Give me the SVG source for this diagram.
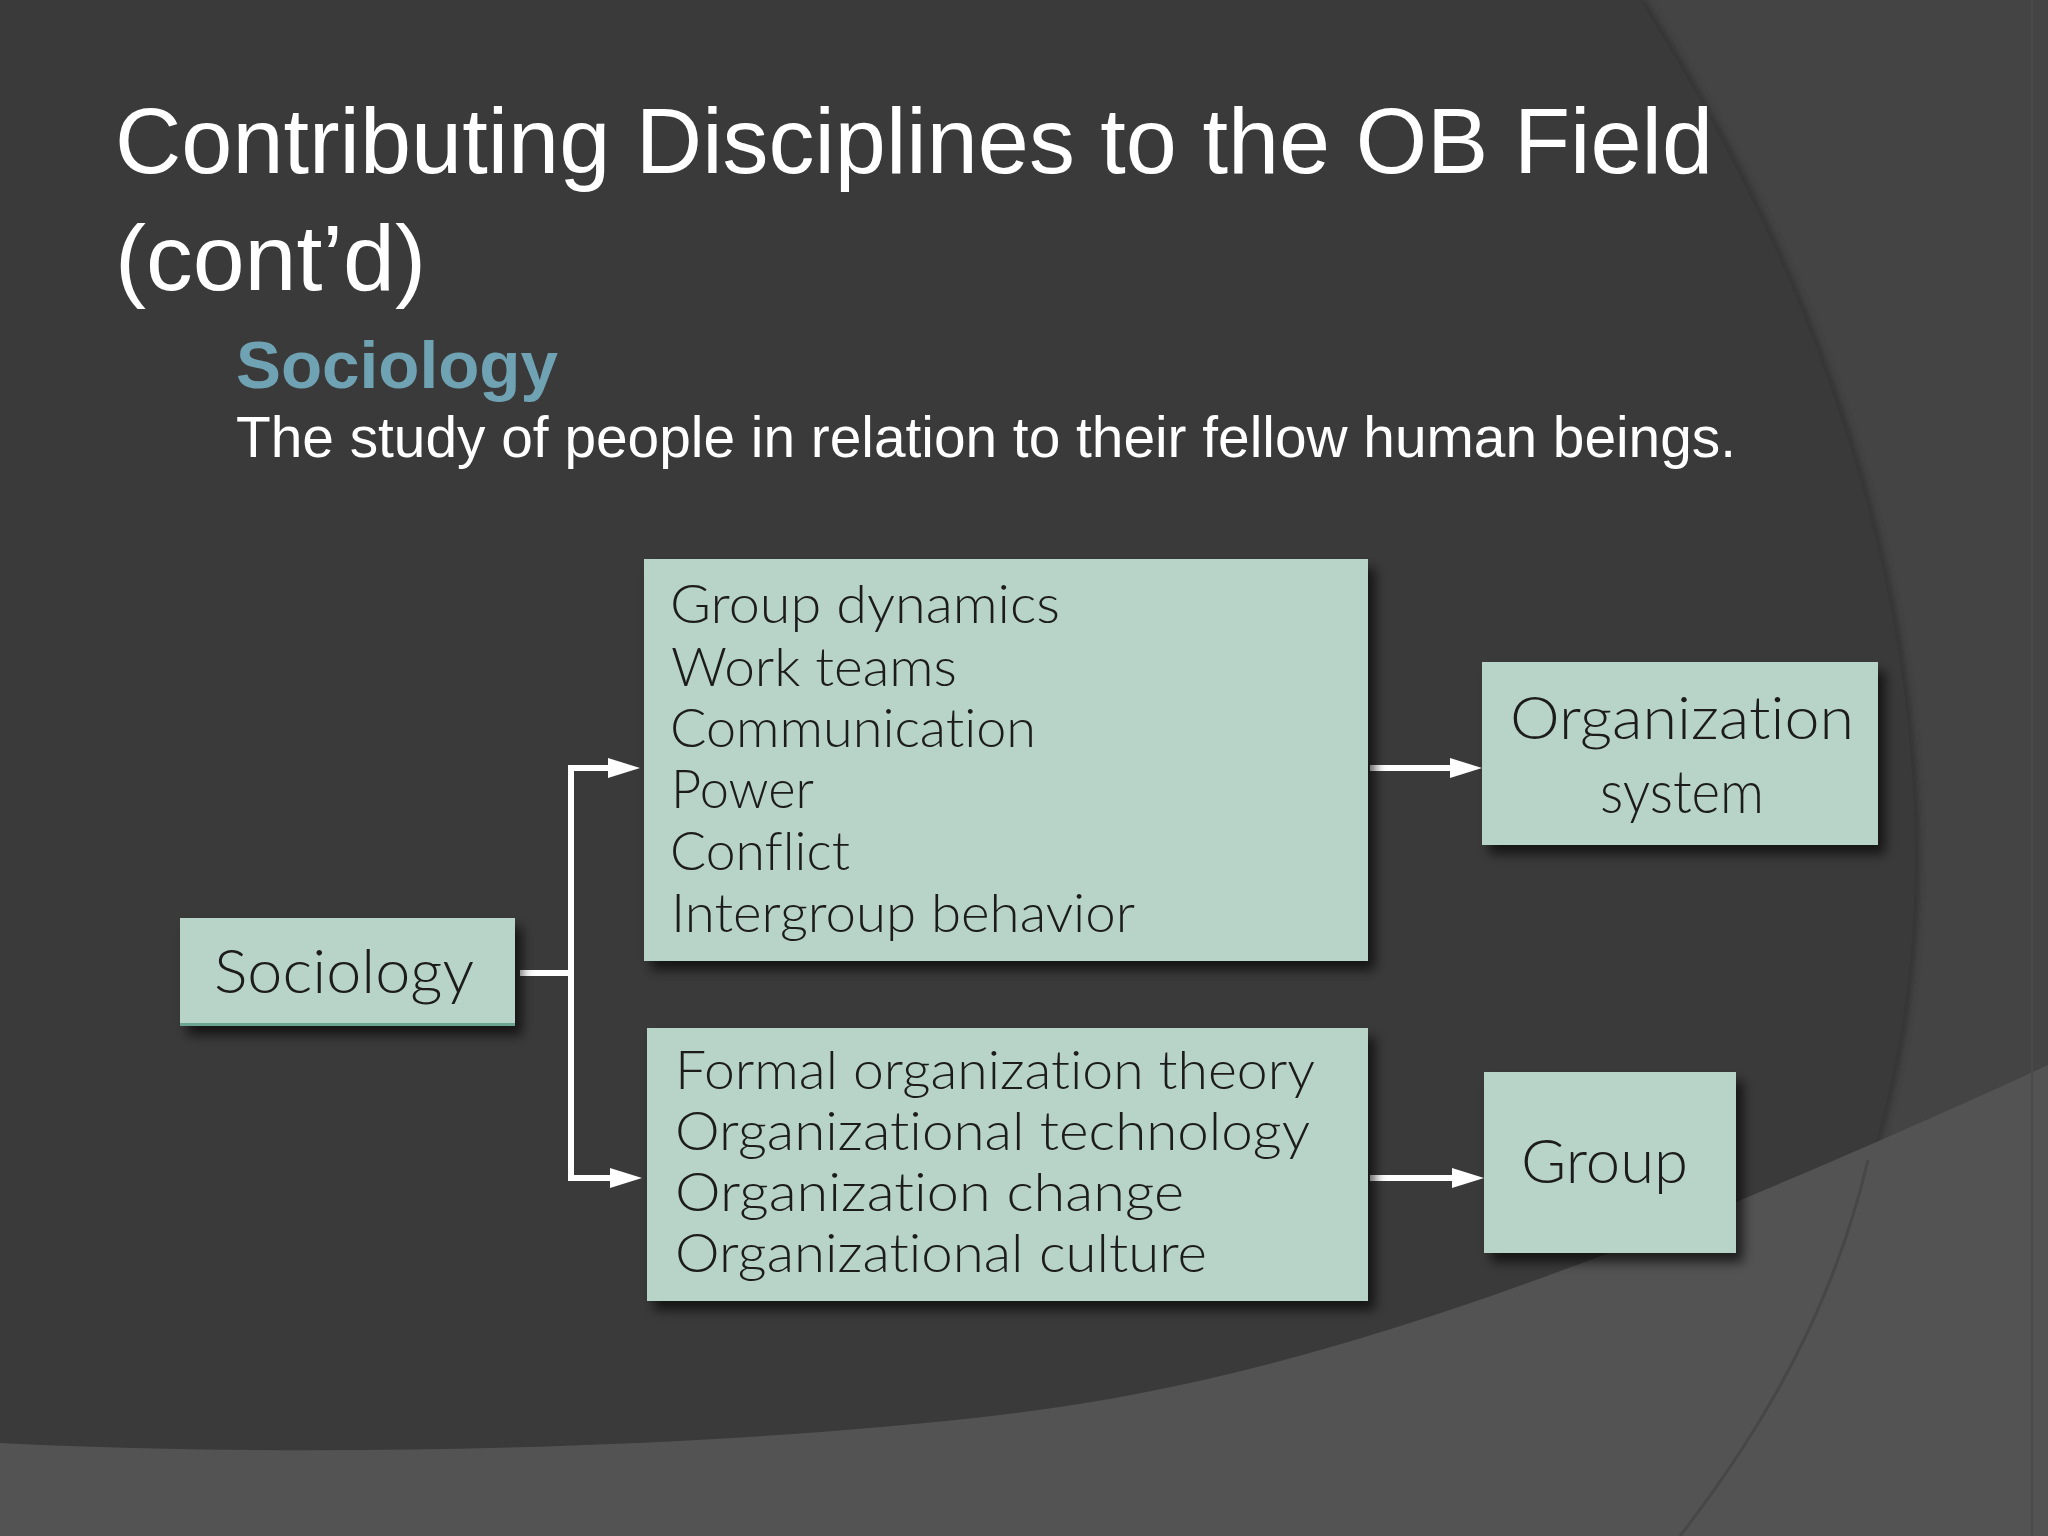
<svg xmlns="http://www.w3.org/2000/svg" width="2048" height="1536" viewBox="0 0 2048 1536">
  <defs>
    <filter id="shadow" x="-10%" y="-10%" width="130%" height="140%">
      <feDropShadow dx="7" dy="9" stdDeviation="6" flood-color="#000000" flood-opacity="0.65"/>
    </filter>
    <filter id="soft" x="-5%" y="-5%" width="110%" height="110%">
      <feGaussianBlur stdDeviation="3"/>
    </filter>
    <marker id="arrow" markerUnits="userSpaceOnUse" markerWidth="32" markerHeight="20" refX="0" refY="10" orient="auto-start-reverse">
      <path d="M0,0 L32,10 L0,20 Z" fill="#ffffff"/>
    </marker>
    <style>
      .title { font-family: "Liberation Sans", Arial, sans-serif; fill: #ffffff; }
      .heading { font-family: "Liberation Sans", Arial, sans-serif; font-weight: bold; fill: #6fa2b2; }
      .body { font-family: "Liberation Sans", Arial, sans-serif; fill: #ffffff; }
      .box { fill: #b8d3c7; filter: url(#shadow); }
      .edge { fill: #6aa592; }
      .lbl { font-family: Lato, "Open Sans", sans-serif; font-weight: 300; font-variant-ligatures: none; fill: #1c1c1c; }
      .conn { fill: none; stroke: #ffffff; stroke-width: 6; stroke-linejoin: miter; }
    </style>
  </defs>

  <!-- background -->
  <rect x="0" y="0" width="2048" height="1536" fill="#444444"/>
  <path d="M1640,0 C1780,220 1915,520 1915,860 C1915,1120 1820,1340 1680,1536" fill="none" stroke="#2e2e2e" stroke-width="10" filter="url(#soft)" opacity="0.7"/>
  <path d="M0,0 L1640,0 C1780,220 1915,520 1915,860 C1915,1120 1820,1340 1680,1536 L0,1536 Z" fill="#3a3a3a"/>
  <path d="M0,1443 C300,1458 700,1450 1000,1415 C1300,1380 1600,1270 2048,1065 L2048,1536 L0,1536 Z" fill="#535353"/>
  <path d="M1868,1160 C1835,1300 1770,1420 1680,1536" fill="none" stroke="#474747" stroke-width="3"/>
  <line x1="2032" y1="0" x2="2032" y2="1536" stroke="#4a4a4a" stroke-width="2"/>

  <!-- title texts -->
  <text class="title" x="115" y="173" font-size="92" textLength="1598" lengthAdjust="spacingAndGlyphs">Contributing Disciplines to the OB Field</text>
  <text class="title" x="115" y="290" font-size="92" textLength="311" lengthAdjust="spacingAndGlyphs">(cont’d)</text>
  <text class="heading" x="236" y="388" font-size="66" textLength="322" lengthAdjust="spacingAndGlyphs">Sociology</text>
  <text class="body" x="236" y="457" font-size="57" textLength="1500" lengthAdjust="spacingAndGlyphs">The study of people in relation to their fellow human beings.</text>

  <!-- connectors -->
  <g id="connectors">
    <path class="conn" d="M520,973 H571"/>
    <path class="conn" d="M608,768 H571 V1178 H610" marker-start="url(#arrow)" marker-end="url(#arrow)"/>
    <path class="conn" d="M1370,768 H1450" marker-end="url(#arrow)"/>
    <path class="conn" d="M1370,1178 H1452" marker-end="url(#arrow)"/>
  </g>

  <!-- nodes -->
  <g id="node-sociology">
    <rect class="box" x="180" y="918" width="335" height="108"/>
    <rect class="edge" x="180" y="1023" width="335" height="3"/>
    <text class="lbl" x="214" y="993" font-size="62" textLength="260" lengthAdjust="spacingAndGlyphs">Sociology</text>
  </g>

  <g id="node-group-topics">
    <rect class="box" x="644" y="559" width="724" height="402"/>
    <text class="lbl" x="670" y="623" font-size="54" textLength="390" lengthAdjust="spacingAndGlyphs">Group dynamics</text>
    <text class="lbl" x="671" y="686" font-size="54" textLength="286" lengthAdjust="spacingAndGlyphs">Work teams</text>
    <text class="lbl" x="670" y="747" font-size="54" textLength="366" lengthAdjust="spacingAndGlyphs">Communication</text>
    <text class="lbl" x="671" y="808" font-size="54" textLength="143" lengthAdjust="spacingAndGlyphs">Power</text>
    <text class="lbl" x="670" y="870" font-size="54" textLength="180" lengthAdjust="spacingAndGlyphs">Conflict</text>
    <text class="lbl" x="671" y="932" font-size="54" textLength="464" lengthAdjust="spacingAndGlyphs">Intergroup behavior</text>
  </g>

  <g id="node-org-topics">
    <rect class="box" x="647" y="1028" width="721" height="273"/>
    <text class="lbl" x="675" y="1089" font-size="54" textLength="640" lengthAdjust="spacingAndGlyphs">Formal organization theory</text>
    <text class="lbl" x="675" y="1150" font-size="54" textLength="635" lengthAdjust="spacingAndGlyphs">Organizational technology</text>
    <text class="lbl" x="675" y="1211" font-size="54" textLength="509" lengthAdjust="spacingAndGlyphs">Organization change</text>
    <text class="lbl" x="675" y="1272" font-size="54" textLength="532" lengthAdjust="spacingAndGlyphs">Organizational culture</text>
  </g>

  <g id="node-organization-system">
    <rect class="box" x="1482" y="662" width="396" height="183"/>
    <text class="lbl" x="1510" y="739" font-size="60" textLength="344" lengthAdjust="spacingAndGlyphs">Organization</text>
    <text class="lbl" x="1600" y="813" font-size="60" textLength="164" lengthAdjust="spacingAndGlyphs">system</text>
  </g>

  <g id="node-group">
    <rect class="box" x="1484" y="1072" width="252" height="181"/>
    <text class="lbl" x="1521" y="1183" font-size="62" textLength="167" lengthAdjust="spacingAndGlyphs">Group</text>
  </g>
</svg>
